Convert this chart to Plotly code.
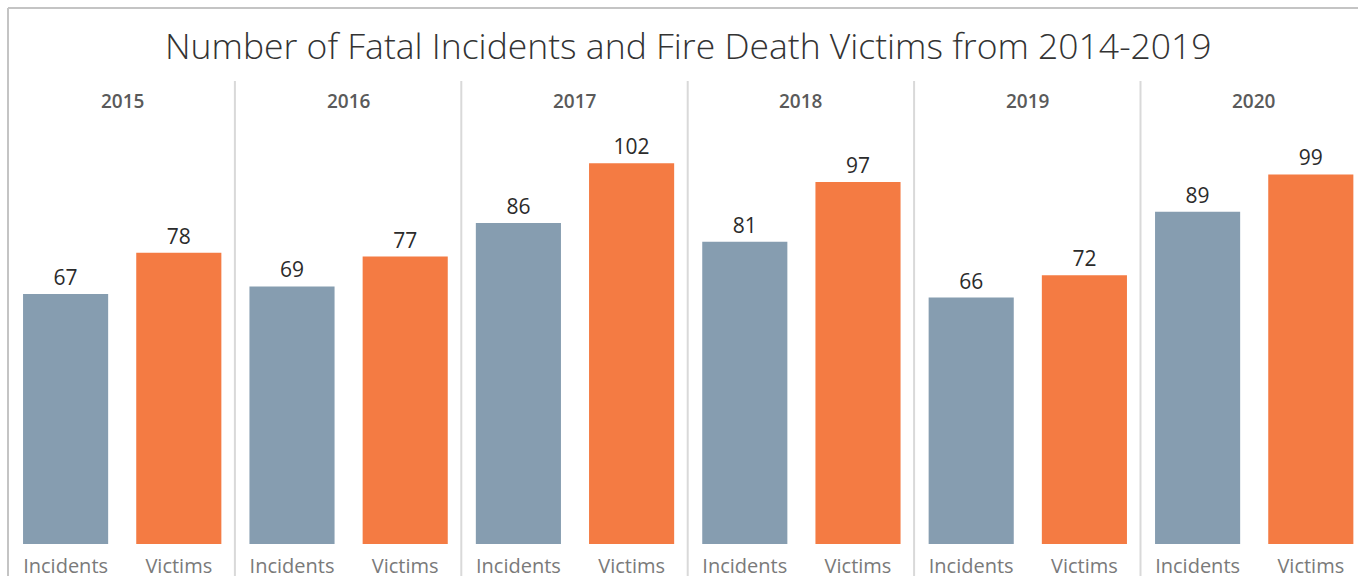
import plotly.graph_objects as go

years = ["2015", "2016", "2017", "2018", "2019", "2020"]
measures = ["Incidents", "Victims"]
incidents = [67, 69, 86, 81, 66, 89]
victims = [78, 77, 102, 97, 72, 99]
title_text = "Number of Fatal Incidents and Fire Death Victims from 2014-2019"

W, H = 1358, 576
colors = ["#869db0", "#f47b43"]

panel_left = 9.0
panel_w = 226.4
y_bottom_px = 544
y_top_px = 82
px_per_unit = 3.733
y_max = (y_bottom_px - y_top_px) / px_per_unit

fig = go.Figure()
font_family = "Open Sans, Lato, sans-serif"

for i, yr in enumerate(years):
    x0 = panel_left + i * panel_w
    x1 = x0 + panel_w
    rng = [-0.5, 1.5]
    if x1 > W:
        frac = (W - x0) / panel_w
        rng = [-0.5, -0.5 + 2 * frac]
        x1 = W
    ax = "" if i == 0 else str(i + 1)
    vals = [incidents[i], victims[i]]
    fig.add_trace(go.Bar(
        x=measures, y=vals,
        marker=dict(color=colors, line=dict(width=0)),
        text=[str(v) for v in vals], textposition="outside",
        textfont=dict(size=21, color="#2b2b2b", family=font_family),
        cliponaxis=False, hoverinfo="skip",
        xaxis="x" + ax, yaxis="y" + ax, showlegend=False,
    ))
    fig.layout["xaxis" + ax] = dict(
        domain=[x0 / W, x1 / W], type="category", range=rng,
        showgrid=False, zeroline=False, showline=False,
        ticks="outside", ticklen=4, tickcolor="rgba(0,0,0,0)",
        tickfont=dict(size=20, color="#7a7a7a", family=font_family),
        anchor="y" + ax, fixedrange=True, automargin=False,
    )
    fig.layout["yaxis" + ax] = dict(
        domain=[1 - y_bottom_px / H, 1 - y_top_px / H], range=[0, y_max],
        showgrid=False, zeroline=False, showline=False, showticklabels=False,
        anchor="x" + ax, fixedrange=True, automargin=False,
    )
    fig.add_annotation(
        x=(x0 + panel_w / 2) / W, y=1 - 101 / H, xref="paper", yref="paper",
        text=yr, showarrow=False,
        font=dict(size=19, color="#5a5a5a", family=font_family, weight=600),
        xanchor="center", yanchor="middle",
    )
    if i > 0:
        fig.add_shape(type="line", xref="paper", yref="paper",
                      x0=(x0 - 0.5) / W, x1=(x0 - 0.5) / W,
                      y0=0, y1=1 - 81 / H,
                      line=dict(color="#d9d9d9", width=2))

# outer border (top and left)
fig.add_shape(type="line", xref="paper", yref="paper",
              x0=8 / W, x1=1, y0=1 - 8 / H, y1=1 - 8 / H,
              line=dict(color="#c4c4c4", width=2))
fig.add_shape(type="line", xref="paper", yref="paper",
              x0=8 / W, x1=8 / W, y0=0, y1=1 - 8 / H,
              line=dict(color="#c4c4c4", width=2))

fig.add_annotation(
    x=688 / W, y=1 - 45 / H, xref="paper", yref="paper",
    text=title_text, showarrow=False,
    font=dict(size=35.5, color="#333333", family=font_family, weight=300),
    xanchor="center", yanchor="middle",
)

fig.update_layout(
    width=W, height=H, margin=dict(l=0, r=0, t=0, b=0, autoexpand=False),
    paper_bgcolor="white", plot_bgcolor="white",
    bargap=0.248,
)

fig.write_html(
    "out.html",
    config={"displayModeBar": False},
    post_script="document.body.style.margin='0';document.body.style.overflow='hidden';",
)
